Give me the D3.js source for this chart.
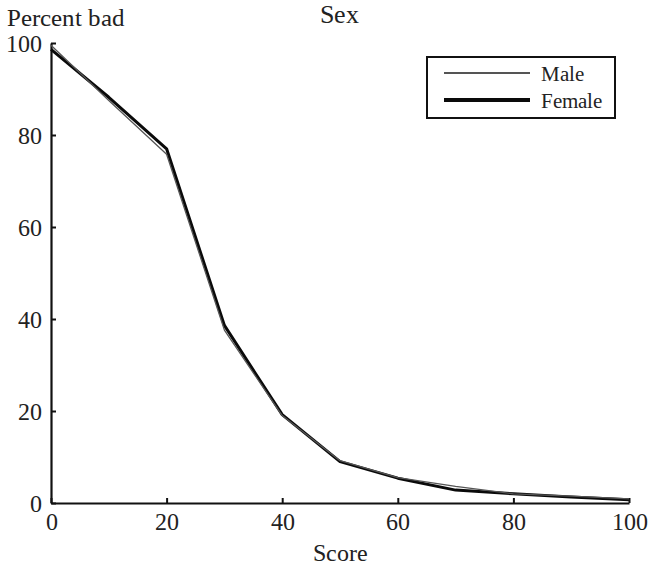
<!DOCTYPE html>
<html><head><meta charset="utf-8">
<script src="https://cdn.jsdelivr.net/npm/d3@7"></script>
<style>
@font-face{font-family:"ChartSerif";src:local("Liberation Serif"),local("LiberationSerif"),local("Tinos"),local("Times New Roman");}
body{margin:0;background:#fff}
svg text{font-family:"ChartSerif","Liberation Serif",Tinos,"Times New Roman",serif;}
</style>
</head><body><svg id="c" width="648" height="570"></svg>
<script>
const scores = [0,10,20,30,40,50,60,70,80,90,100];
const male =   [99.5,87.5,75.8,37.6,19.0,9.2,5.5,3.6,2.0,1.5,0.9];
const female = [98.6,88.2,77.0,38.6,19.2,9.0,5.4,2.8,2.0,1.3,0.7];
const xTicks = [0,20,40,60,80,100];
const yTicks = [0,20,40,60,80,100];
const seriesNames = ["Male","Female"];
const FONT = '"ChartSerif", "Liberation Serif", Tinos, "Times New Roman", serif';

const svg = d3.select("#c");
const x = d3.scaleLinear().domain([0,100]).range([51,629]);
const y = d3.scaleLinear().domain([0,100]).range([503,43]);

const xa = svg.append("g").attr("transform","translate(0,503)")
  .call(d3.axisBottom(x).tickValues(xTicks).tickSizeInner(-5).tickSizeOuter(0).tickPadding(10));
const ya = svg.append("g").attr("transform","translate(51,0)")
  .call(d3.axisLeft(y).tickValues(yTicks).tickSizeInner(-5).tickSizeOuter(0).tickPadding(9));
[xa,ya].forEach(g=>{
  g.attr("font-family",FONT).attr("font-size",24);
  g.select(".domain").attr("stroke","#111").attr("stroke-width",2.2);
  g.selectAll(".tick line").attr("stroke","#111").attr("stroke-width",2);
  g.selectAll(".tick text").attr("font-size",24).attr("fill","#222").style("font-family",FONT);
});
ya.selectAll(".tick text").attr("dy","0.34em");

const line = d3.line().x((d,i)=>x(scores[i])).y(d=>y(d));
svg.append("path").datum(female).attr("d",line).attr("fill","none").attr("stroke","#0a0a0a").attr("stroke-width",3).attr("stroke-linejoin","round");
svg.append("path").datum(male).attr("d",line).attr("fill","none").attr("stroke","#555").attr("stroke-width",1.3).attr("stroke-linejoin","round");

function txt(xp,yp,s,size,anchor){
  return svg.append("text").attr("x",xp).attr("y",yp).attr("text-anchor",anchor||"start")
    .attr("font-size",size).attr("fill","#222").style("font-family",FONT).text(s);
}
txt(7,26,"Percent bad",25);
txt(339,23,"Sex",26,"middle");
txt(340,561,"Score",24,"middle");

svg.append("rect").attr("x",427).attr("y",57).attr("width",188).attr("height",61).attr("fill","#fff").attr("stroke","#111").attr("stroke-width",2);
const lw = [2,4], lc = ["#555","#0a0a0a"], ly = [73,100];
seriesNames.forEach((n,i)=>{
  svg.append("line").attr("x1",444).attr("x2",530).attr("y1",ly[i]).attr("y2",ly[i]).attr("stroke",lc[i]).attr("stroke-width",lw[i]);
  txt(541,ly[i]+8,n,21);
});
</script></body></html>
